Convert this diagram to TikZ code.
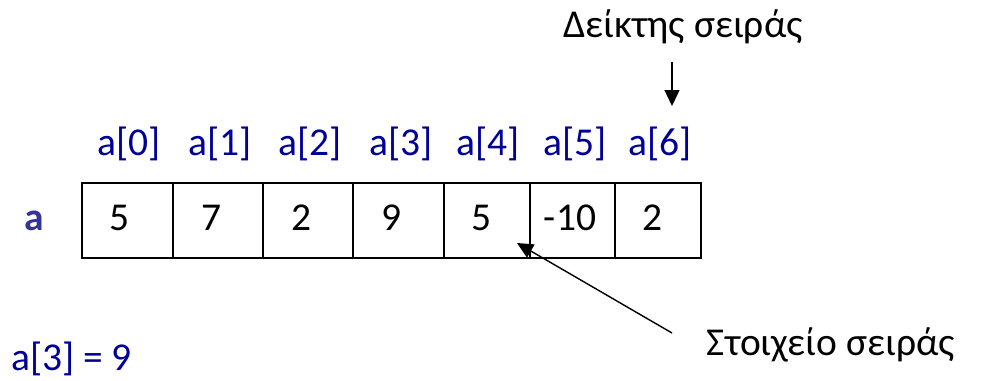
\documentclass[tikz,border=0pt]{standalone}
\usepackage{fontspec}
\setmainfont{Carlito}
\usetikzlibrary{arrows.meta}
\definecolor{idxblue}{HTML}{000099}
\definecolor{namecol}{HTML}{333399}
\begin{document}
\begin{tikzpicture}[x=1pt,y=-1pt,
  every node/.style={font=\fontsize{39.5}{46}\selectfont, inner sep=0pt},
  cell/.style={draw, line width=1.8pt, minimum height=75pt, anchor=north west},
  val/.style={anchor=base},
  idx/.style={anchor=base, text=idxblue},
  tipline/.style={line width=1.4pt, -{Triangle[width=15pt,length=16pt]}}]
\useasboundingbox (0,0) rectangle (995,380);
% cells
\node[cell, minimum width=91pt] (c0) at (81,182) {};
\node[cell, minimum width=90pt] (c1) at (172,182) {};
\node[cell, minimum width=90pt] (c2) at (262,182) {};
\node[cell, minimum width=91pt] (c3) at (352,182) {};
\node[cell, minimum width=86pt] (c4) at (443,182) {};
\node[cell, minimum width=85pt] (c5) at (529,182) {};
\node[cell, minimum width=86pt] (c6) at (614,182) {};
% values
\node[val] (v0) at (120,230) {5};
\node[val] (v1) at (212,230) {7};
\node[val] (v2) at (302,230) {2};
\node[val] (v3) at (392,230) {9};
\node[val] (v4) at (482,230) {5};
\node[val] (v5) at (570,230) {-10};
\node[val] (v6) at (652,230) {2};
% indices
\node[idx] (i0) at (129,155) {a[0]};
\node[idx] (i1) at (220,155) {a[1]};
\node[idx] (i2) at (310,155) {a[2]};
\node[idx] (i3) at (401,155) {a[3]};
\node[idx] (i4) at (488,155) {a[4]};
\node[idx] (i5) at (575,155) {a[5]};
\node[idx] (i6) at (660,155) {a[6]};
% array name
\node[anchor=base, text=namecol, font=\fontsize{39.5}{46}\selectfont\bfseries] (name) at (34,230) {a};
% annotations
\node[anchor=base] (ptr) at (683,37) {Δείκτης σειράς};
\node[anchor=base] (elem) at (831,355) {Στοιχείο σειράς};
\node[anchor=base west, text=idxblue] (ex) at (11,370) {a[3] = 9};
\coordinate (ptrstart) at (672,62);
\coordinate (ptrend) at (672,106);
\coordinate (elemstart) at (672,333);
\coordinate (elemend) at (517,243);
\draw[tipline] (ptrstart) -- (ptrend);
\draw[tipline] (elemstart) -- (elemend);
\end{tikzpicture}
\end{document}
